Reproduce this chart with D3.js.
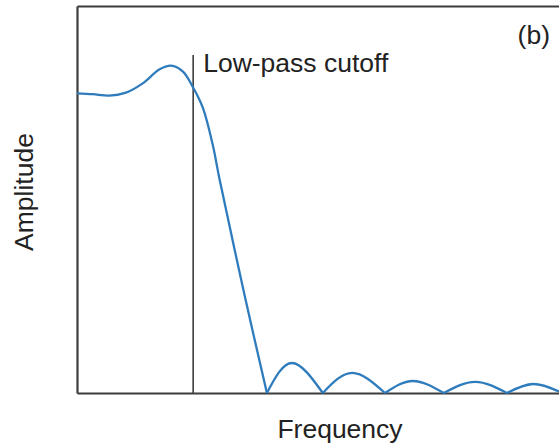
<!DOCTYPE html>
<html>
<head>
<meta charset="utf-8">
<script src="https://cdn.jsdelivr.net/npm/d3@7"></script>
<style>
  body { margin: 0; background: #fff; }
  text { font-family: "Liberation Sans", Arial, Helvetica, sans-serif; fill: #222; }
</style>
</head>
<body>
<div id="chart"></div>
<script>
// Main lobe of the response (passband ripple and roll-off)
const mainFreq = [0, 3.26, 6.7, 10.17, 13.63, 17.07, 19.5, 21.93, 24.0, 26.08, 28.15, 29.52, 34.85, 39.4];
const mainAmp = [0.999, 0.996, 0.991, 1.001, 1.032, 1.078, 1.091, 1.072, 1.021, 0.952, 0.828, 0.717, 0.32, 0];

// Side lobes: zero, peak, zero, peak, ...
const sideFreq = [39.4, 44.6, 51.0, 57.1, 63.9, 69.7, 76.1, 82.6, 89.2, 94.6, 100];
const sideAmp = [0, 0.10, 0, 0.067, 0, 0.04, 0, 0.037, 0, 0.03, 0.005];

// Cutoff marker
const cutoffFreq = 24.1;
const cutoffTop = 1.127;

// Labels
const xLabel = "Frequency";
const yLabel = "Amplitude";
const cutoffLabel = "Low-pass cutoff";
const panelLabel = "(b)";

const [w, h] = [559, 448];
const plotLeft = 77, plotRight = 559, plotTop = 6, plotBottom = 393;
const fontSize = 26.5;
const axisColor = "#3d3d3d";
const lineColor = "#2f7cbd";

const x = d3.scaleLinear().domain([0, 100]).range([plotLeft, plotRight]);
const y = d3.scaleLinear().domain([0, 1.29]).range([plotBottom, plotTop]);

const svg = d3.select("#chart")
  .append("svg")
  .attr("width", w)
  .attr("height", h);

// Frame (no ticks)
const frame = [
  ["bottom", d3.axisBottom(x), `translate(0,${plotBottom})`],
  ["top", d3.axisTop(x), `translate(0,${plotTop})`],
  ["left", d3.axisLeft(y), `translate(${plotLeft},0)`]
];
frame.forEach(([name, axis, tr]) => {
  const g = svg.append("g")
    .attr("class", "axis-" + name)
    .attr("transform", tr)
    .call(axis.tickValues([]).tickSizeOuter(0));
  g.select(".domain")
    .attr("stroke", axisColor)
    .attr("stroke-width", 2.2);
});

// Cutoff line
svg.append("line")
  .attr("x1", x(cutoffFreq))
  .attr("x2", x(cutoffFreq))
  .attr("y1", y(0))
  .attr("y2", y(cutoffTop))
  .attr("stroke", axisColor)
  .attr("stroke-width", 1.6);

// Response curve
const mainPts = mainFreq.map((f, i) => [f, mainAmp[i]]);
const mainLine = d3.line()
  .x(d => x(d[0]))
  .y(d => y(d[1]))
  .curve(d3.curveCatmullRom.alpha(0.5));

svg.append("path")
  .datum(mainPts)
  .attr("d", mainLine)
  .attr("fill", "none")
  .attr("stroke", lineColor)
  .attr("stroke-width", 2.3);

const lobeLine = d3.line()
  .x(d => x(d[0]))
  .y(d => y(d[1]))
  .curve(d3.curveNatural);

for (let i = 0; i + 2 < sideFreq.length; i += 2) {
  const pts = [0, 1, 2].map(k => [sideFreq[i + k], sideAmp[i + k]]);
  svg.append("path")
    .datum(pts)
    .attr("d", lobeLine)
    .attr("fill", "none")
    .attr("stroke", lineColor)
    .attr("stroke-width", 2.3);
}

// Texts
svg.append("text")
  .attr("x", x(cutoffFreq) + 10)
  .attr("y", 72)
  .attr("font-size", fontSize)
  .text(cutoffLabel);

svg.append("text")
  .attr("x", 550)
  .attr("y", 44)
  .attr("text-anchor", "end")
  .attr("font-size", fontSize)
  .text(panelLabel);

svg.append("text")
  .attr("x", 340)
  .attr("y", 438)
  .attr("text-anchor", "middle")
  .attr("font-size", fontSize)
  .text(xLabel);

svg.append("text")
  .attr("transform", "translate(33,192) rotate(-90)")
  .attr("text-anchor", "middle")
  .attr("font-size", fontSize)
  .text(yLabel);
</script>
</body>
</html>
